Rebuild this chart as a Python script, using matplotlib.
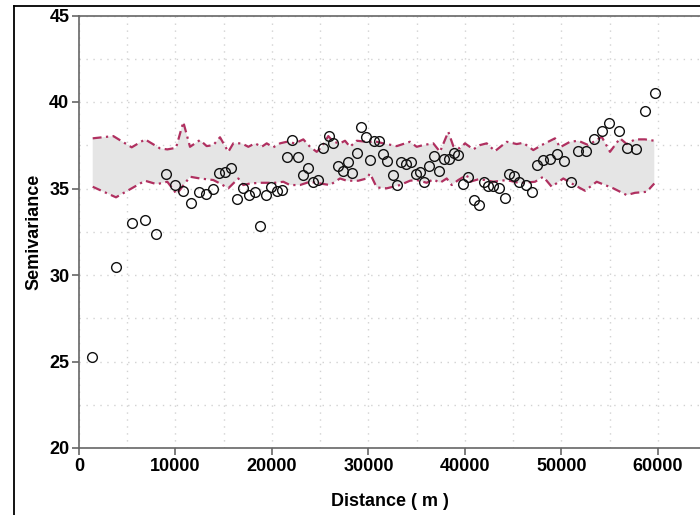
import matplotlib
matplotlib.use("Agg")
import matplotlib.pyplot as plt
from matplotlib.lines import Line2D
from matplotlib.ticker import MultipleLocator

# empirical semivariogram (lag distance in m, semivariance)
lag_dist = [1347, 3834, 5524, 6840, 7980, 9016, 9948, 10809, 11607, 12467,
            13161, 13855, 14539, 15130, 15752, 16405, 17026, 17638, 18239, 18757,
            19348, 19897, 20488, 21058, 21586, 22125, 22695, 23244, 23762, 24281,
            24799, 25317, 25877, 26364, 26890, 27389, 27846, 28291, 28778, 29244,
            29711, 30166, 30576, 31101, 31535, 31949, 32509, 32923, 33400, 33908,
            34384, 34903, 35338, 35784, 36302, 36789, 37307, 37846, 38343, 38861,
            39328, 39794, 40343, 40955, 41401, 41919, 42416, 42934, 43562, 44146,
            44592, 45110, 45629, 46322, 46913, 47494, 48115, 48809, 49504, 50261,
            50986, 51742, 52540, 53369, 54167, 54955, 55929, 56758, 57691, 58655,
            59660]
semivar = [25.25, 30.45, 33.00, 33.17, 32.36, 35.83, 35.20, 34.87, 34.14, 34.82,
           34.68, 34.95, 35.91, 35.97, 36.21, 34.37, 35.01, 34.65, 34.81, 32.85,
           34.62, 35.10, 34.85, 34.93, 36.83, 37.80, 36.83, 35.78, 36.18, 35.39,
           35.49, 37.34, 38.03, 37.64, 36.32, 36.02, 36.53, 35.89, 37.08, 38.55,
           37.96, 36.64, 37.76, 37.76, 36.99, 36.60, 35.78, 35.20, 36.51, 36.40,
           36.54, 35.85, 35.95, 35.37, 36.30, 36.86, 36.02, 36.68, 36.68, 37.03,
           36.96, 35.25, 35.66, 34.36, 34.06, 35.39, 35.17, 35.14, 35.01, 34.46,
           35.83, 35.72, 35.39, 35.23, 34.79, 36.34, 36.64, 36.68, 36.99, 36.60,
           35.39, 37.18, 37.18, 37.84, 38.34, 38.77, 38.32, 37.32, 37.28, 39.49,
           40.50]

# simulation envelope, upper bound
env_up_dist = [1420, 3554, 5461, 6840, 8394, 9151, 10052, 10809, 11503, 12539,
               13233, 13918, 14612, 15472, 15990, 16861, 17545, 18239, 18933, 19451,
               20135, 20830, 21524, 22384, 23244, 23939, 24633, 25151, 25835, 26353,
               27047, 27566, 28084, 28778, 29814, 30851, 31535, 32923, 34302, 34996,
               35680, 36716, 37410, 38271, 38789, 39483, 40001, 40861, 41556, 42250,
               43110, 44322, 45358, 46043, 47079, 47949, 49328, 49846, 50882, 51742,
               52779, 54167, 55028, 56064, 56758, 57618, 58655, 59619]
env_up = [37.90, 38.03, 37.38, 37.84, 37.32, 37.26, 37.35, 38.84, 37.41, 37.80,
          37.45, 37.51, 37.96, 37.12, 37.61, 37.61, 37.41, 37.61, 37.41, 37.61,
          37.38, 37.61, 37.70, 37.61, 37.84, 37.41, 37.12, 37.41, 38.03, 37.70,
          37.61, 37.76, 37.41, 37.76, 37.70, 37.70, 37.61, 37.45, 37.70, 37.41,
          37.51, 37.61, 37.12, 38.28, 37.45, 37.32, 37.61, 37.26, 37.51, 37.61,
          37.16, 37.70, 37.57, 37.64, 37.22, 37.51, 37.90, 37.38, 37.70, 37.76,
          37.51, 37.99, 37.12, 37.90, 37.57, 37.84, 37.84, 37.76]

# simulation envelope, lower bound
env_lo_dist = [1420, 3834, 6840, 8052, 9151, 10125, 11503, 12539, 13918, 14612,
               15472, 16508, 17026, 17721, 18757, 20311, 21172, 21866, 22902, 23939,
               24975, 26011, 27047, 27742, 28944, 29814, 30156, 30851, 31887, 33265,
               34302, 34996, 36032, 36716, 37410, 38105, 38623, 39307, 40177, 40519,
               41380, 42074, 42934, 44322, 45701, 47255, 48115, 48986, 50188, 51058,
               52437, 53649, 55370, 56758, 57618, 58831, 59619]
env_lo = [35.10, 34.49, 35.45, 35.25, 35.39, 34.68, 35.68, 35.58, 35.49, 35.29,
          35.01, 35.58, 35.20, 35.29, 35.33, 35.33, 35.39, 35.20, 35.20, 35.39,
          35.29, 35.20, 35.58, 35.45, 35.45, 35.58, 35.87, 35.06, 35.01, 35.20,
          35.45, 35.49, 35.33, 35.53, 35.33, 35.58, 35.20, 35.49, 35.78, 35.39,
          35.53, 35.49, 35.39, 35.49, 35.31, 35.39, 35.68, 35.10, 35.58, 35.29,
          34.87, 35.39, 35.01, 34.62, 34.75, 34.81, 35.29]

env_color = "#B03060"
font_list = ["Liberation Sans Narrow", "Liberation Sans", "DejaVu Sans"]

fig = plt.figure(figsize=(7.0, 5.15), dpi=100)
ax = fig.add_axes([79 / 700, 67 / 515, 621 / 700, 432.5 / 515])

# envelope band
poly_x = env_up_dist + env_lo_dist[::-1]
poly_y = env_up + env_lo[::-1]
ax.fill(poly_x, poly_y, color="#E5E5E5", lw=0, zorder=1)
ax.plot(env_up_dist, env_up, color=env_color, lw=1.6, dashes=(4, 2, 1, 2), zorder=2)
ax.plot(env_lo_dist, env_lo, color=env_color, lw=1.6, dashes=(4, 2, 1, 2), zorder=2)

ax.plot(lag_dist, semivar, "o", ms=7, mfc="none", mec="#111111", mew=1.0, zorder=3)

ax.set_xlim(0, 64355)
ax.set_ylim(20, 45)
ax.xaxis.set_major_locator(MultipleLocator(10000))
ax.xaxis.set_minor_locator(MultipleLocator(5000))
ax.yaxis.set_major_locator(MultipleLocator(5))
ax.yaxis.set_minor_locator(MultipleLocator(2.5))

ax.grid(True, which="both", color="#d2d2d2", lw=1.0, linestyle=(0, (1, 4)), zorder=0)
ax.set_axisbelow(True)

for side in ["left", "bottom", "top"]:
    ax.spines[side].set_color("#666666")
    ax.spines[side].set_linewidth(1.2)
ax.spines["right"].set_visible(False)

ax.tick_params(which="major", length=5, width=1.2, color="#666666", pad=2)
ax.tick_params(which="minor", length=0)
for lab in ax.get_xticklabels() + ax.get_yticklabels():
    lab.set_family(font_list)
    lab.set_fontweight("bold")
    lab.set_fontsize(13)

ax.set_xlabel("Distance ( m )", family=font_list, fontweight="bold", fontsize=13, labelpad=13)
ax.set_ylabel("Semivariance", family=font_list, fontweight="bold", fontsize=13, labelpad=5)

# outer frame of the original figure
fig.add_artist(Line2D([14 / 700, 14 / 700], [0, 1 - 6 / 515], color="black", lw=1.3))
fig.add_artist(Line2D([14 / 700, 1], [1 - 6 / 515, 1 - 6 / 515], color="black", lw=1.3))

fig.savefig("out.png", dpi=100)
